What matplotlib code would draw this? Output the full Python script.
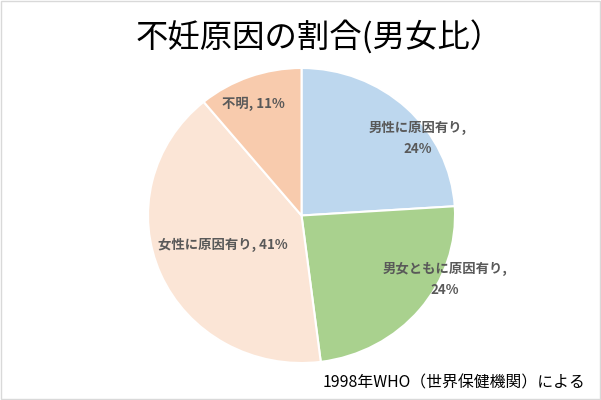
import numpy as np
import matplotlib.pyplot as plt
from matplotlib.patches import Rectangle

plt.rcParams['font.family'] = ['Noto Sans CJK JP', 'DejaVu Sans']

# data
categories = ['男性に原因有り', '男女ともに原因有り', '女性に原因有り', '不明']
values = [24, 24, 41, 11]
colors = ['#BDD7EE', '#A9D18E', '#FBE5D6', '#F8CBAD']

# label texts and where they sit (radius fraction, angle deg)
label_text = ['男性に原因有り,\n24%', '男女ともに原因有り,\n24%', '女性に原因有り, 41%', '不明, 11%']
label_pos = [(0.92, 34.6), (1.03, -25.0), (0.55, 201.0), (0.82, 112.6)]

fig = plt.figure(figsize=(6.01, 4.0), dpi=100)
ax = fig.add_axes([0.2463, 0.0925, 0.5108, 0.7375])
ax.pie(values, colors=colors, startangle=90, counterclock=False,
       wedgeprops={'edgecolor': 'white', 'linewidth': 1.5})
ax.set_xlim(-1.0, 1.0)
ax.set_ylim(-1.0, 1.0)
ax.set_aspect('auto')

for txt, (r, a) in zip(label_text, label_pos):
    ax.text(r * np.cos(np.radians(a)), r * np.sin(np.radians(a)), txt,
            ha='center', va='center', fontsize=9.6, fontweight='bold',
            color='#595959', linespacing=1.6)

fig.text(0.531, 0.905, '不妊原因の割合(男女比）', ha='center', va='center',
         fontsize=23.3, color='black')
fig.text(0.975, 0.043, '1998年WHO（世界保健機関）による', ha='right', va='center',
         fontsize=11.4, color='black')

fig.patches.append(Rectangle((0.001, 0.002), 0.997, 0.995, transform=fig.transFigure,
                             fill=False, edgecolor='#D9D9D9', linewidth=1))

plt.savefig('out.png', dpi=100)
